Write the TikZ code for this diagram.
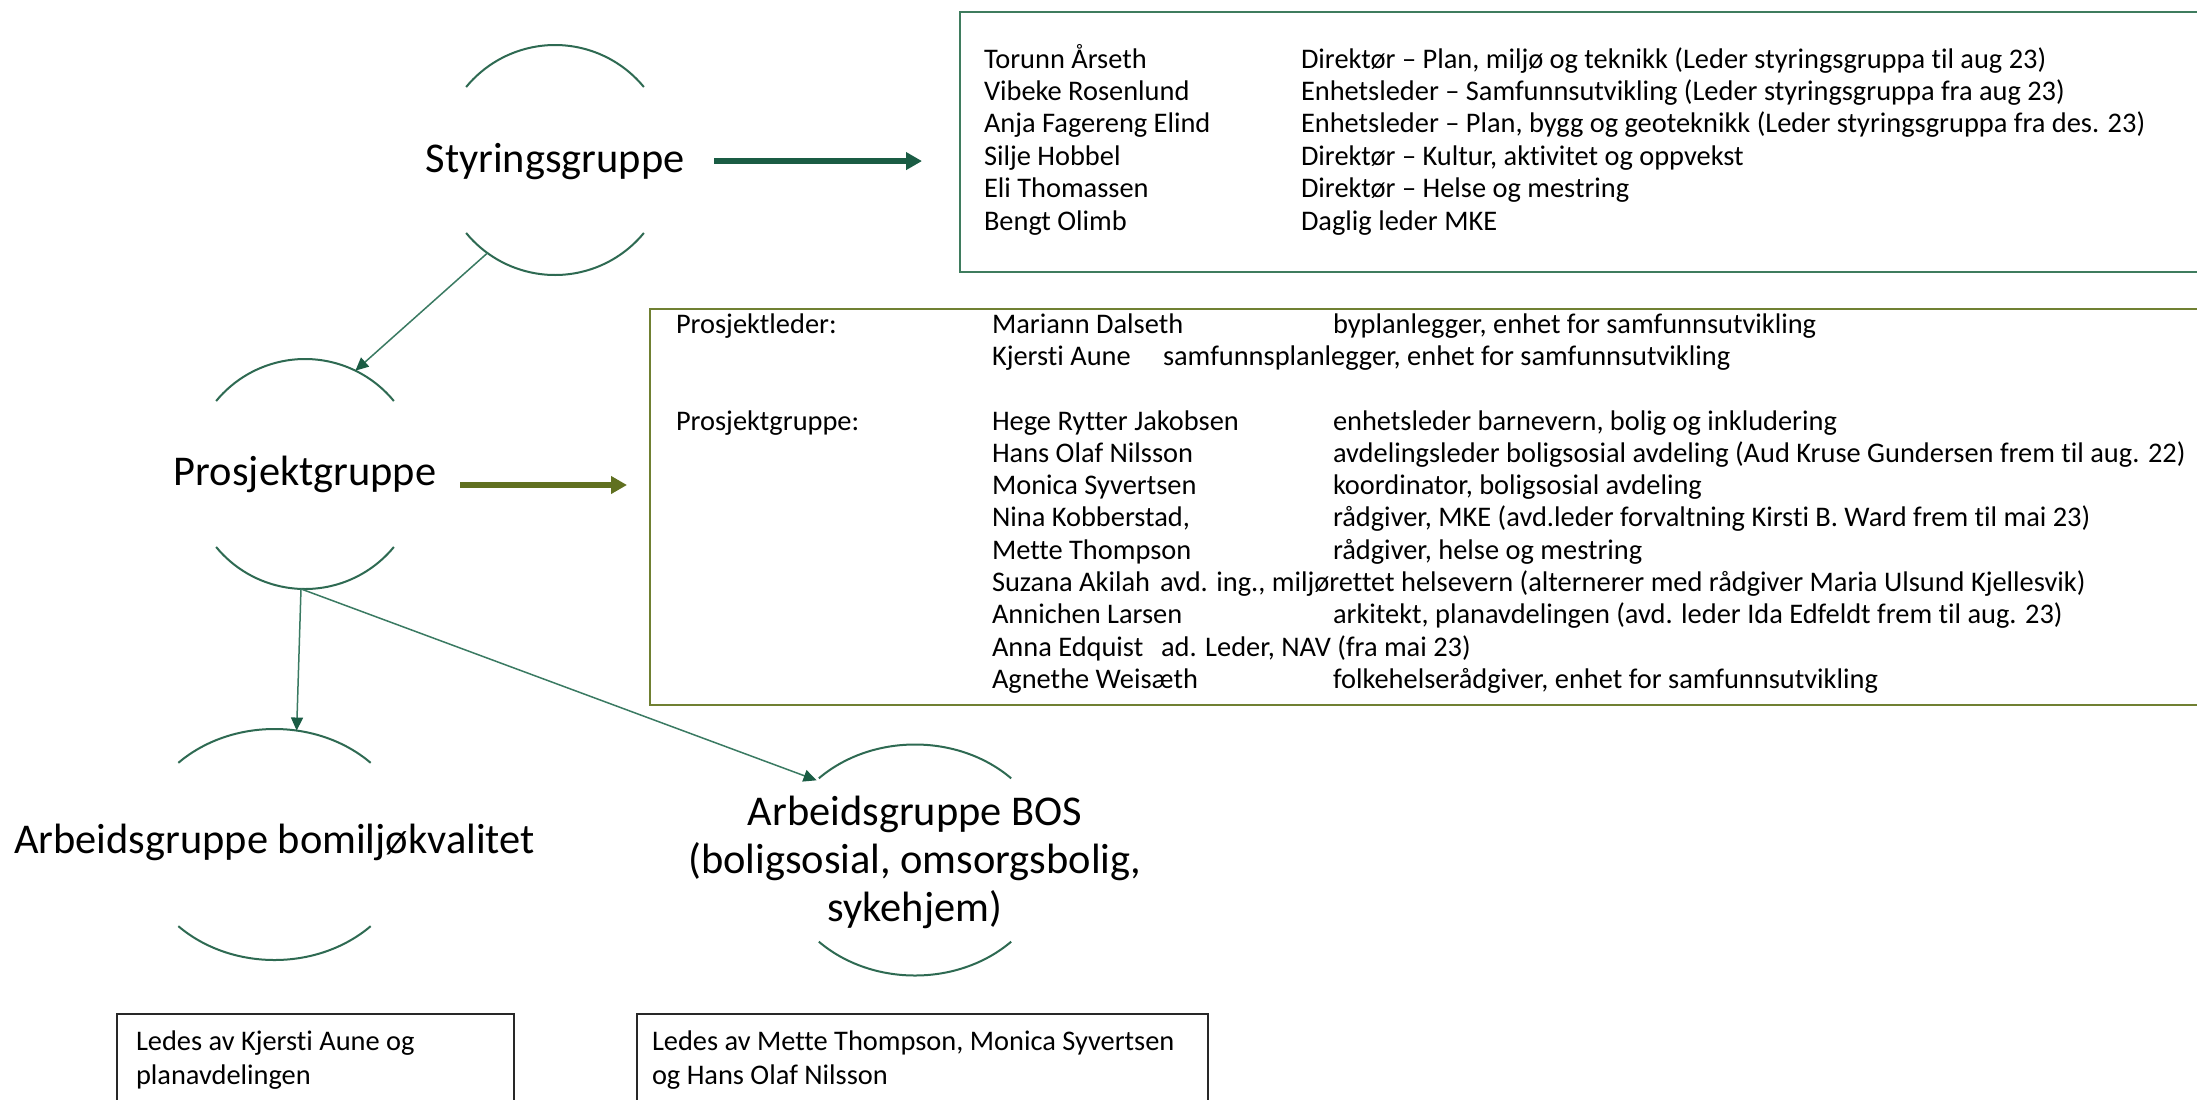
\documentclass[tikz,border=0pt]{standalone}
\usepackage{fontspec}
\setmainfont{Carlito}[Ligatures=CommonOff]
\usetikzlibrary{arrows.meta,shapes.geometric}

\definecolor{ringgreen}{RGB}{46,106,82}
\definecolor{linkgreen}{RGB}{58,122,98}
\definecolor{darkgreen}{RGB}{26,92,68}
\definecolor{tealframe}{RGB}{63,124,94}
\definecolor{olivegreen}{RGB}{96,112,32}
\definecolor{oliveframe}{RGB}{112,128,50}
\definecolor{plainframe}{RGB}{40,40,40}

\tikzset{
  ringshape/.style={circle, draw=none, inner sep=0pt, outer sep=0pt, minimum size=115pt},
  ovalshape/.style={ellipse, draw=none, inner sep=0pt, outer sep=0pt,
                    minimum width=136pt, minimum height=115.5pt},
  ringline/.style={draw=ringgreen, line width=1pt},
  link/.style={draw=linkgreen, line width=0.75pt,
               -{Triangle[length=6.5pt,width=6pt,color=darkgreen]}},
  bigarrow/.style={line width=2.7pt, -{Triangle[length=8pt,width=8.5pt]}},
  biglabel/.style={font=\fontsize{21.2}{24}\selectfont, inner sep=0pt, outer sep=0pt},
  boxtext/.style={font=\fontsize{14.2}{16.2}\selectfont, inner sep=0pt, outer sep=0pt,
                  anchor=base west},
  framebox/.style={rectangle, inner sep=0pt, outer sep=0pt, line width=1pt},
}

% upper and lower arc of an open ring: node, x radius, y radius, angle where the arc stops
\newcommand{\ringarcs}[4]{%
  \pgfmathsetmacro{\ringend}{180-#4}%
  \draw[ringline] ([shift={({#2*cos(#4)},{#3*sin(#4)})}]#1.center)
     arc[start angle=#4, end angle=\ringend, x radius=#2, y radius=#3];
  \draw[ringline] ([shift={({#2*cos(#4)},{-#3*sin(#4)})}]#1.center)
     arc[start angle=-#4, end angle=-\ringend, x radius=#2, y radius=#3];
}

\begin{document}
\begin{tikzpicture}[x=0.5pt,y=-0.5pt]
\useasboundingbox (0,0) rectangle (2197,1099);
\clip (0,0) rectangle (2197,1099);
\fill[white] (0,0) rectangle (2197,1099);

% ---- group rings ----
\node[ringshape] (styr)  at (555,160) {};
\node[ringshape] (prosj) at (305,474) {};
\node[ovalshape] (bom)   at (274.5,844.5) {};
\node[ovalshape] (bos)   at (915,860) {};

\ringarcs{styr}{57.5pt}{57.5pt}{39.4}
\ringarcs{prosj}{57.5pt}{57.5pt}{39.4}
\ringarcs{bom}{68pt}{57.75pt}{45}
\ringarcs{bos}{68pt}{57.75pt}{45}

\node[biglabel, anchor=base] (styrtxt)  at ([yshift=-6pt]styr.center) {Styringsgruppe};
\node[biglabel, anchor=base] (prosjtxt) at ([yshift=-5.5pt]prosj.center) {Prosjektgruppe};
\node[biglabel, anchor=base] (bomtxt)   at ([yshift=-4.25pt]bom.center) {Arbeidsgruppe bomiljøkvalitet};
\node[biglabel, align=center] (bostxt)  at ([yshift=-1pt]bos.center)
  {Arbeidsgruppe BOS\\(boligsosial, omsorgsbolig,\\sykehjem)};

% ---- hierarchy links ----
\draw[link] (styr.234.5) -- (prosj.64);
\draw[link] (prosj.268) -- (bom.79);
\draw[link] (prosj.268) -- (bos.141);

% ---- member boxes ----
\node[framebox, draw=tealframe, minimum width=627.5pt, minimum height=130pt]
  (topbox) at (1587.5,142) {};
\node[framebox, draw=oliveframe, minimum width=782.5pt, minimum height=198pt]
  (projbox) at (1432.5,507) {};
\node[framebox, draw=plainframe, line width=0.8pt, minimum width=198.5pt, minimum height=48pt]
  (bombox) at (315.5,1062) {};
\node[framebox, draw=plainframe, line width=0.8pt, minimum width=285.5pt, minimum height=48pt]
  (bosbox) at (922.5,1062) {};

% ---- arrows to the boxes ----
\draw[bigarrow, darkgreen, shorten >=19pt] ([xshift=15pt]styrtxt.east) -- (styrtxt.east -| topbox.west);
\draw[bigarrow, olivegreen, shorten >=11.5pt] ([xshift=12pt]prosjtxt.base east) -- (prosjtxt.base east -| projbox.west);

% ---- steering group members ----
\node[boxtext] (s1n) at (984,68)    {Torunn Årseth};
\node[boxtext] (s1d) at (1301,68)   {Direktør – Plan, miljø og teknikk (Leder styringsgruppa til aug 23)};
\node[boxtext] (s2n) at (984,100.4) {Vibeke Rosenlund};
\node[boxtext] (s2d) at (1301,100.4){Enhetsleder – Samfunnsutvikling (Leder styringsgruppa fra aug 23)};
\node[boxtext] (s3n) at (984,132.8) {Anja Fagereng Elind};
\node[boxtext] (s3d) at (1301,132.8){Enhetsleder – Plan, bygg og geoteknikk (Leder styringsgruppa fra des. 23)};
\node[boxtext] (s4n) at (984,165.2) {Silje Hobbel};
\node[boxtext] (s4d) at (1301,165.2){Direktør – Kultur, aktivitet og oppvekst};
\node[boxtext] (s5n) at (984,197.6) {Eli Thomassen};
\node[boxtext] (s5d) at (1301,197.6){Direktør – Helse og mestring};
\node[boxtext] (s6n) at (984,230)   {Bengt Olimb};
\node[boxtext] (s6d) at (1301,230)  {Daglig leder MKE};

% ---- project group members ----
\node[boxtext] (pl)  at (676,333)   {Prosjektleder:};
\node[boxtext] (p1n) at (992,333)   {Mariann Dalseth};
\node[boxtext] (p1d) at (1333,333)  {byplanlegger, enhet for samfunnsutvikling};
\node[boxtext] (p2n) at (992,365.3) {Kjersti Aune};
\node[boxtext] (p2d) at (1163,365.3){samfunnsplanlegger, enhet for samfunnsutvikling};

\node[boxtext] (pg)  at (676,430)   {Prosjektgruppe:};
\node[boxtext] (g1n) at (992,430)   {Hege Rytter Jakobsen};
\node[boxtext] (g1d) at (1333,430)  {enhetsleder barnevern, bolig og inkludering};
\node[boxtext] (g2n) at (992,462.3) {Hans Olaf Nilsson};
\node[boxtext] (g2d) at (1333,462.3){avdelingsleder boligsosial avdeling (Aud Kruse Gundersen frem til aug. 22)};
\node[boxtext] (g3n) at (992,494.6) {Monica Syvertsen};
\node[boxtext] (g3d) at (1333,494.6){koordinator, boligsosial avdeling};
\node[boxtext] (g4n) at (992,526.9) {Nina Kobberstad,};
\node[boxtext] (g4d) at (1333,526.9){rådgiver, MKE (avd.leder forvaltning Kirsti B. Ward frem til mai 23)};
\node[boxtext] (g5n) at (992,559.2) {Mette Thompson};
\node[boxtext] (g5d) at (1333,559.2){rådgiver, helse og mestring};
\node[boxtext] (g6)  at (992,591.5) {Suzana Akilah\hspace{0.35em}avd. ing., miljørettet helsevern (alternerer med rådgiver Maria Ulsund Kjellesvik)};
\node[boxtext] (g7n) at (992,623.8) {Annichen Larsen};
\node[boxtext] (g7d) at (1333,623.8){arkitekt, planavdelingen (avd. leder Ida Edfeldt frem til aug. 23)};
\node[boxtext] (g8n) at (992,656.1) {Anna Edquist};
\node[boxtext] (g8d) at (1161,656.1){ad. Leder, NAV (fra mai 23)};
\node[boxtext] (g9n) at (992,688.4) {Agnethe Weisæth};
\node[boxtext] (g9d) at (1333,688.4){folkehelserådgiver, enhet for samfunnsutvikling};

% ---- working group leads ----
\node[boxtext] (b1) at (136,1050) {Ledes av Kjersti Aune og};
\node[boxtext] (b2) at (136,1084) {planavdelingen};
\node[boxtext] (c1) at (652,1050) {Ledes av Mette Thompson, Monica Syvertsen};
\node[boxtext] (c2) at (652,1084) {og Hans Olaf Nilsson};
\end{tikzpicture}
\end{document}
